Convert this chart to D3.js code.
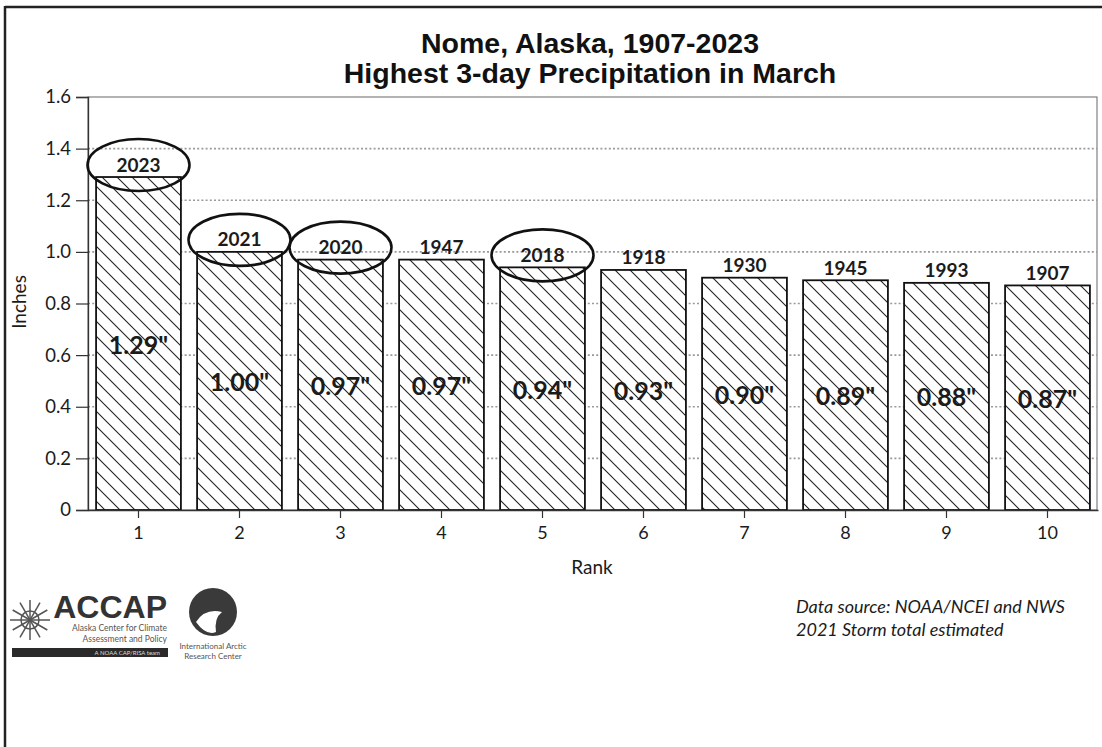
<!DOCTYPE html>
<html><head><meta charset="utf-8">
<script src="https://cdn.jsdelivr.net/npm/d3@7"></script>
<style>
html,body{margin:0;padding:0;background:#fff;}
svg{display:block;}
</style></head>
<body>
<svg id="chart" width="1102" height="747"></svg>
<script>
const ranks = ["1","2","3","4","5","6","7","8","9","10"];
const years = ["2023","2021","2020","1947","2018","1918","1930","1945","1993","1907"];
const values = [1.29, 1.00, 0.97, 0.97, 0.94, 0.93, 0.90, 0.89, 0.88, 0.87];
const circledYears = ["2023","2021","2020","2018"];
const yTicks = [0, 0.2, 0.4, 0.6, 0.8, 1.0, 1.2, 1.4, 1.6];
const yTickLabels = ["0","0.2","0.4","0.6","0.8","1.0","1.2","1.4","1.6"];
const gridTicks = [0.2, 0.4, 0.6, 0.8, 1.0, 1.2, 1.4];
const titleLines = ["Nome, Alaska, 1907-2023", "Highest 3-day Precipitation in March"];
const noteLines = ["Data source: NOAA/NCEI and NWS", "2021 Storm total estimated"];

const svg = d3.select("#chart");
const FONT = "Lato, 'Open Sans', sans-serif";
const ink = "#1b1b1b";

// outer border (top & left visible)
svg.append("line").attr("x1",5).attr("x2",1102).attr("y1",7).attr("y2",7).attr("stroke","#222").attr("stroke-width",2.5);
svg.append("line").attr("x1",5).attr("x2",5).attr("y1",6).attr("y2",747).attr("stroke","#222").attr("stroke-width",2.5);

const x = d3.scaleBand().domain(ranks).range([88, 1098]).paddingInner(0.16).paddingOuter(0.08);
const y = d3.scaleLinear().domain([0, 1.6]).range([510, 97]);

// hatch pattern
const defs = svg.append("defs");
const s = 15;
const pat = defs.append("pattern").attr("id","hatch").attr("patternUnits","userSpaceOnUse")
  .attr("width", s).attr("height", s);
pat.append("rect").attr("width", s).attr("height", s).attr("fill", "#fff");
pat.append("path").attr("d", `M0,0 L${s},${s} M${-s/2},${s/2} L${s/2},${s*1.5} M${s/2},${-s/2} L${s*1.5},${s/2}`)
  .attr("stroke","#222").attr("stroke-width",1.1);

// plot frame
svg.append("rect").attr("x",88).attr("y",97).attr("width",1097-88).attr("height",510-97)
  .attr("fill","none").attr("stroke","#666").attr("stroke-width",1);

// gridlines
svg.append("g").selectAll("line").data(gridTicks).join("line")
  .attr("x1",88).attr("x2",1097).attr("y1",d=>y(d)).attr("y2",d=>y(d))
  .attr("stroke","#9a9a9a").attr("stroke-width",1.6).attr("stroke-dasharray","2,2.2");

// bars
const data = ranks.map((r,i)=>({rank:r, year:years[i], value:values[i]}));
svg.append("g").selectAll("rect").data(data).join("rect")
  .attr("x", d=>x(d.rank)).attr("width", x.bandwidth())
  .attr("y", d=>y(d.value)).attr("height", d=>y(0)-y(d.value))
  .attr("fill","url(#hatch)").attr("stroke","#111").attr("stroke-width",1.8);

// axes
const yAxis = d3.axisLeft(y).tickValues(yTicks).tickFormat((d,i)=>yTickLabels[i]).tickSize(12).tickPadding(5);
const gy = svg.append("g").attr("transform","translate(88,0)").call(yAxis);
gy.select(".domain").attr("stroke","#333").attr("stroke-width",1.3);
gy.selectAll(".tick line").attr("stroke","#333").attr("stroke-width",1.2);
gy.selectAll(".tick text").attr("font-family",FONT).attr("font-size",18.5).attr("fill",ink);

const xAxis = d3.axisBottom(x).tickSize(8).tickPadding(8).tickSizeOuter(0);
const gx = svg.append("g").attr("transform","translate(0,510)").call(xAxis);
gx.select(".domain").attr("stroke","#333").attr("stroke-width",1.3);
gx.selectAll(".tick line").attr("stroke","#333").attr("stroke-width",1.2);
gx.selectAll(".tick text").attr("font-family",FONT).attr("font-size",18).attr("fill",ink);

// value labels (middle of bar)
svg.append("g").selectAll("text").data(data).join("text")
  .attr("x", d=>x(d.rank)+x.bandwidth()/2)
  .attr("y", d=>(y(d.value)+y(0))/2)
  .attr("text-anchor","middle").attr("dominant-baseline","central")
  .attr("font-family",FONT).attr("font-weight",700).attr("font-size",25).attr("fill",ink)
  .text(d=>d3.format(".2f")(d.value)+'"');

// year labels
svg.append("g").selectAll("text").data(data).join("text")
  .attr("x", d=>x(d.rank)+x.bandwidth()/2)
  .attr("y", d=>y(d.value)-13)
  .attr("text-anchor","middle").attr("dominant-baseline","central")
  .attr("font-family",FONT).attr("font-weight",700).attr("font-size",19).attr("fill",ink)
  .text(d=>d.year);

// ellipses
svg.append("g").selectAll("ellipse").data(data.filter(d=>circledYears.includes(d.year))).join("ellipse")
  .attr("cx", d=>x(d.rank)+x.bandwidth()/2)
  .attr("cy", d=>y(d.value)-12)
  .attr("rx",51).attr("ry",26)
  .attr("fill","none").attr("stroke","#111").attr("stroke-width",2.6);

// axis titles
svg.append("text").attr("transform","translate(26,302) rotate(-90)")
  .attr("text-anchor","middle").attr("font-family",FONT).attr("font-size",19).attr("fill",ink).text("Inches");
svg.append("text").attr("x",592).attr("y",574).attr("text-anchor","middle")
  .attr("font-family",FONT).attr("font-size",19).attr("fill",ink).text("Rank");

// title
svg.append("g").selectAll("text").data(titleLines).join("text")
  .attr("x",590).attr("y",(d,i)=>53+i*30).attr("text-anchor","middle")
  .attr("font-family","'Liberation Sans', Arial, sans-serif").attr("font-weight",700)
  .attr("font-size",28.5).attr("fill","#111").text(d=>d);

// notes
svg.append("g").selectAll("text").data(noteLines).join("text")
  .attr("x",796).attr("y",(d,i)=>613+i*23)
  .attr("font-family",FONT).attr("font-style","italic").attr("font-size",18).attr("fill",ink).text(d=>d);

// logos (approximated)
const lg = svg.append("g");
const sf = lg.append("g").attr("transform","translate(30,620)").attr("stroke","#555").attr("stroke-width",1.5);
[0,30,60,90,120,150].forEach(a=>{
  sf.append("line").attr("x1",-20).attr("x2",20).attr("y1",0).attr("y2",0).attr("transform",`rotate(${a})`);
});
sf.append("circle").attr("r",9).attr("fill","none");
lg.append("text").attr("x",167).attr("y",618).attr("text-anchor","end")
  .attr("font-family","'Liberation Sans', Arial, sans-serif").attr("font-weight",700).attr("font-size",32).attr("fill","#333").text("ACCAP");
lg.append("text").attr("x",167).attr("y",631).attr("text-anchor","end")
  .attr("font-family",FONT).attr("font-size",8.5).attr("fill","#555").text("Alaska Center for Climate");
lg.append("text").attr("x",167).attr("y",642).attr("text-anchor","end")
  .attr("font-family",FONT).attr("font-size",8.5).attr("fill","#555").text("Assessment and Policy");
lg.append("rect").attr("x",12).attr("y",648).attr("width",156).attr("height",9).attr("fill","#2a2a2a");
lg.append("text").attr("x",160).attr("y",655).attr("text-anchor","end")
  .attr("font-family",FONT).attr("font-size",6).attr("fill","#ddd").text("A NOAA CAP/RISA team");
lg.append("circle").attr("cx",213).attr("cy",612).attr("r",24).attr("fill","#3a3a3a");
lg.append("path").attr("d","M196,622 Q205,608 222,612 Q214,618 216,632 Q206,636 196,622 Z").attr("fill","#fff");
lg.append("text").attr("x",213).attr("y",649).attr("text-anchor","middle")
  .attr("font-family",FONT).attr("font-size",8).attr("fill","#555").text("International Arctic");
lg.append("text").attr("x",213).attr("y",659).attr("text-anchor","middle")
  .attr("font-family",FONT).attr("font-size",8).attr("fill","#555").text("Research Center");
</script>
</body></html>
